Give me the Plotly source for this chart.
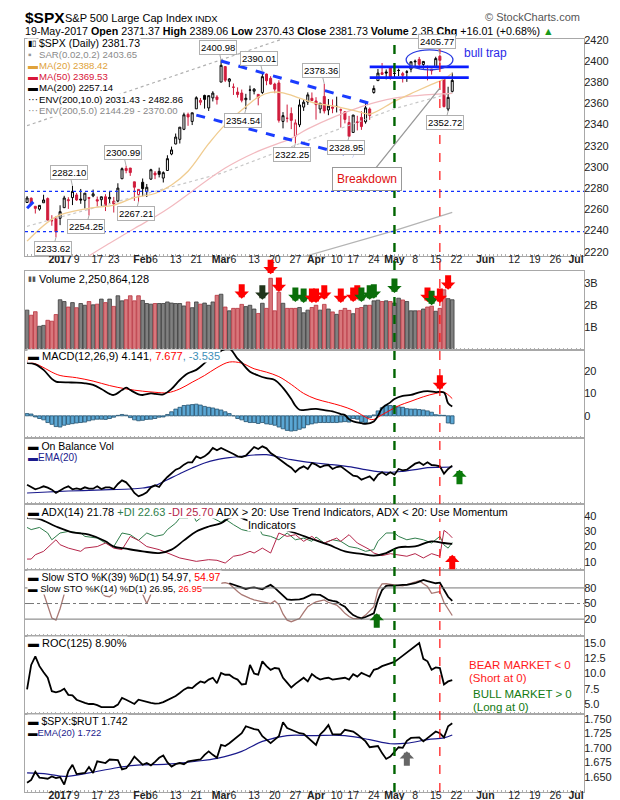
import pandas as pd
import plotly.graph_objects as go
from plotly.subplots import make_subplots

FONT = "Liberation Sans, Arial, sans-serif"

# trading calendar (NYSE holidays removed)
holidays = ["2016-12-26", "2017-01-02", "2017-01-16", "2017-02-20",
            "2017-04-14", "2017-05-29", "2017-07-04"]
days = [d for d in pd.bdate_range("2016-12-20", "2017-05-19")
        if d.strftime("%Y-%m-%d") not in holidays]

# $SPX daily candles
opens = [2266.50, 2270.54, 2262.93, 2260.25, 2266.23, 2270.23, 2249.50, 2251.61,
         2251.57, 2261.60, 2268.18, 2271.14, 2273.59, 2269.72, 2268.60, 2271.14, 2272.74, 2269.14, 2269.14, 2271.90,
         2269.96, 2267.78, 2267.88, 2288.88, 2298.63, 2299.02, 2286.01, 2274.02,
         2285.59, 2276.69, 2288.54, 2294.28, 2295.87, 2289.55, 2296.70, 2312.27, 2321.72, 2326.12, 2335.58, 2349.64,
         2343.01, 2354.91, 2361.11, 2367.50, 2355.73, 2365.23, 2366.08,
         2380.13, 2394.75, 2380.92, 2375.23, 2370.74, 2369.81, 2363.49, 2372.52, 2371.56, 2368.55, 2370.34, 2387.71,
         2383.71, 2378.24, 2379.32, 2343.00, 2345.97, 2350.42, 2329.11, 2339.79, 2356.54, 2361.31, 2364.82,
         2362.34, 2354.76, 2366.59, 2353.79, 2356.59, 2357.16, 2353.92, 2352.15, 2341.98, 2332.62, 2342.53, 2346.79,
         2342.69, 2354.74, 2370.33, 2381.51, 2388.98, 2389.70, 2393.68,
         2388.50, 2391.05, 2386.50, 2389.79, 2392.37, 2399.94, 2401.58, 2396.79, 2394.84, 2392.44, 2393.98, 2404.55,
         2382.95, 2354.69, 2371.37]
highs = [2272.56, 2271.23, 2263.18, 2263.79, 2273.82, 2271.31, 2254.51, 2253.58,
         2263.88, 2272.82, 2271.50, 2282.10, 2275.49, 2279.27, 2275.32, 2271.78, 2278.68, 2272.08, 2272.01, 2274.33,
         2276.96, 2271.78, 2284.63, 2299.55, 2300.99, 2299.02, 2286.01, 2279.09,
         2289.14, 2283.97, 2298.31, 2296.18, 2299.40, 2295.91, 2311.08, 2319.23, 2331.58, 2337.58, 2351.30, 2351.31,
         2351.16, 2366.71, 2365.13, 2368.26, 2367.34, 2371.54, 2367.79,
         2400.98, 2394.75, 2383.89, 2378.80, 2375.12, 2373.09, 2369.08, 2376.86, 2374.42, 2368.55, 2390.01, 2388.10,
         2385.71, 2379.55, 2381.93, 2351.81, 2358.92, 2356.22, 2344.90, 2363.78, 2363.36, 2370.42, 2370.35,
         2365.87, 2360.53, 2378.36, 2364.16, 2363.76, 2366.37, 2355.22, 2352.72, 2348.26, 2349.14, 2348.35, 2352.63,
         2361.37, 2356.18, 2376.98, 2392.48, 2398.16, 2392.10, 2393.68,
         2394.49, 2392.93, 2389.82, 2391.43, 2399.29, 2401.36, 2403.87, 2399.74, 2395.72, 2392.44, 2404.05, 2405.77,
         2384.87, 2375.74, 2389.06]
lows = [2266.14, 2265.15, 2256.08, 2258.84, 2266.15, 2249.11, 2244.56, 2233.62,
        2245.13, 2261.60, 2260.45, 2264.06, 2268.04, 2265.27, 2260.83, 2254.25, 2271.51, 2262.81, 2263.35, 2258.41,
        2265.01, 2257.02, 2266.68, 2288.88, 2294.08, 2291.62, 2268.04, 2267.21,
        2272.44, 2271.65, 2287.88, 2288.57, 2290.16, 2285.38, 2296.61, 2311.10, 2321.42, 2322.17, 2334.81, 2338.87,
        2339.58, 2354.91, 2358.34, 2355.09, 2352.87, 2361.87, 2358.96,
        2380.13, 2380.17, 2375.39, 2367.98, 2365.51, 2361.01, 2354.54, 2363.04, 2368.52, 2358.18, 2368.94, 2377.18,
        2377.64, 2369.66, 2341.90, 2336.45, 2342.13, 2335.74, 2322.25, 2337.63, 2352.94, 2358.58, 2362.60,
        2344.73, 2350.72, 2350.52, 2348.90, 2350.74, 2351.50, 2337.25, 2341.18, 2328.95, 2332.51, 2334.54, 2335.05,
        2340.91, 2344.51, 2369.19, 2381.15, 2386.78, 2382.68, 2382.36,
        2384.83, 2385.82, 2379.75, 2380.35, 2389.38, 2393.92, 2392.44, 2392.79, 2381.74, 2387.19, 2393.94, 2396.05,
        2356.21, 2352.72, 2370.43]
closes = [2270.76, 2265.18, 2260.96, 2263.79, 2268.88, 2249.92, 2249.26, 2238.83,
          2257.83, 2270.75, 2269.00, 2276.98, 2268.90, 2268.90, 2275.32, 2270.44, 2274.64, 2267.89, 2271.89, 2263.69,
          2271.31, 2265.20, 2280.07, 2298.37, 2296.68, 2294.69, 2280.90, 2278.87,
          2279.55, 2280.85, 2297.42, 2292.56, 2293.08, 2294.67, 2307.87, 2316.10, 2328.25, 2337.58, 2349.25, 2347.22,
          2351.16, 2365.38, 2362.82, 2363.81, 2367.34, 2369.75, 2363.64,
          2395.96, 2381.92, 2383.12, 2375.31, 2368.39, 2362.98, 2364.87, 2372.60, 2373.47, 2365.45, 2385.26, 2381.38,
          2378.25, 2373.47, 2344.02, 2348.45, 2345.96, 2343.98, 2341.59, 2358.57, 2361.13, 2368.06, 2362.72,
          2358.84, 2360.16, 2352.95, 2357.49, 2355.54, 2357.16, 2353.78, 2344.93, 2328.95, 2349.01, 2342.19, 2338.17,
          2355.84, 2348.69, 2374.15, 2388.61, 2387.45, 2388.77, 2384.20,
          2388.33, 2391.17, 2388.13, 2389.52, 2399.29, 2399.38, 2396.92, 2399.63, 2394.44, 2390.90, 2402.32, 2400.67,
          2357.03, 2365.72, 2381.73]

# overlays (trading-day index, value)
ma20_idx = [0, 7, 15, 21, 26, 31, 35, 39, 44, 48, 53, 56, 59, 62, 66, 70, 75, 80, 83, 89, 94, 98, 101, 103]
ma20_val = [2230, 2253, 2261, 2264, 2271, 2275, 2283, 2296, 2322, 2340, 2357, 2366, 2370.5, 2370, 2365, 2360,
            2357, 2352.5, 2350, 2362, 2371, 2378, 2383, 2388.42]
ma50_idx = [0, 8, 15, 20, 26, 31, 35, 48, 56, 64, 68, 81, 89, 103]
ma50_val = [2178, 2198, 2216, 2228, 2242, 2253, 2263, 2299, 2315, 2327, 2336, 2357, 2365, 2369.53]
ma200_idx = [0, 34, 68, 89, 103]
ma200_val = [2140, 2178, 2216, 2240, 2257.14]
env5_idx = [0, 7, 47, 68, 89, 103]
env5_val = [2244, 2251.6, 2294, 2325, 2355, 2370.0]
env10_idx = [0, 24, 47, 62, 103]
env10_val = [2339, 2371, 2401, 2421, 2482.86]

# volume, billions of shares
volume = [1.78, 1.55, 1.71, 1.05, 1.09, 1.32, 1.28, 1.58,
          2.25, 2.17, 1.92, 2.12, 1.89, 2.08, 2.00, 2.17, 2.02, 2.05, 2.28, 2.12, 2.28, 1.95, 2.43, 2.20, 2.25, 2.43,
          2.20, 2.43,
          2.22, 2.08, 2.05, 2.08, 2.08, 2.08, 2.15, 2.10, 2.08, 2.08, 1.97, 2.15, 1.89, 2.15, 2.05, 2.10, 2.00, 2.15,
          2.45,
          2.50, 1.92, 1.75, 1.86, 1.86, 2.04, 1.94, 2.00, 1.83, 1.63, 2.09, 1.86, 3.22, 1.75, 2.59, 2.09, 1.86, 1.86,
          1.86, 1.90, 1.66, 1.78, 1.90,
          2.00, 1.78, 2.04, 1.83, 1.70, 1.59, 1.77, 1.86, 1.77, 1.62, 1.86, 1.90, 2.00, 2.00, 2.20, 2.23, 2.17, 2.20,
          2.17,
          2.10, 2.32, 2.24, 2.17, 1.75, 1.75, 1.75, 1.83, 1.92, 1.96, 1.73, 1.86, 2.70, 2.30, 2.25]

# MACD(12,26,9)
macd_idx = [0, 2, 4, 6, 7, 8, 10, 12, 14, 16, 18, 20, 21, 23, 24, 25, 27, 28, 30, 31, 33, 35, 37, 39, 41, 43, 45,
            47, 49, 51, 52, 54, 56, 58, 60, 62, 64, 65, 66, 68, 70, 72, 74, 76, 77, 78, 79, 81, 82, 84, 85, 86, 88,
            89, 91, 93, 95, 97, 99, 101, 102, 103]
macd_val = [23.5, 23.0, 20.5, 16.5, 15.3, 15.0, 14.9, 14.8, 14.5, 13.8, 12.0, 9.8, 9.3, 11.5, 12.6, 11.5, 9.6, 9.3,
            10.0, 9.8, 9.6, 12.0, 16.0, 19.0, 20.5, 23.5, 26.5, 29.0, 30.0, 25.5, 23.7, 19.7, 18.0, 16.8, 16.0, 12.5,
            7.5, 4.5, 2.7, 2.8, 3.1, 2.5, 2.0, 0.8, 0.3, -1.5, -2.5, -3.3, -3.6, -2.5, 0.0, 3.4, 6.0, 7.5, 8.9, 9.3,
            10.5, 11.0, 10.6, 10.4, 5.6, 4.141]
signal_idx = [0, 3, 6, 8, 12, 16, 20, 24, 28, 31, 34, 37, 40, 43, 46, 49, 52, 55, 58, 61, 64, 67, 70, 73, 76, 79,
              81, 83, 84, 86, 88, 90, 93, 96, 99, 101, 103]
signal_val = [24.5, 22.5, 19.5, 18.0, 17.0, 15.5, 13.5, 12.0, 11.0, 10.5, 10.3, 12.0, 15.0, 18.0, 21.5, 24.0, 23.5,
              21.0, 19.5, 17.5, 14.0, 10.0, 7.5, 6.0, 4.5, 2.5, 0.5, -1.5, -1.6, 0.5, 2.5, 4.5, 6.5, 8.5, 10.0, 10.5,
              7.677]
macd_hist = [1.0, 0.8, -0.5, -1.2, -1.8, -3.0, -3.8, -4.8, -5.0, -4.2, -3.8, -3.5, -3.2, -3.0, -2.8, -2.2, -1.8,
             -1.5, -1.5, -1.6, -1.2, -0.6, 0.2, 0.6, 0.3, -0.8, -1.8, -2.2, -2.0, -1.6, -1.5, -1.2, -0.6, -0.5, 0.6,
             1.8, 3.0, 3.8, 4.6, 4.8, 5.0, 5.2, 4.8, 4.2, 3.8, 3.5, 3.0, 2.6, 1.8, 1.0, 0.0, -1.2, -1.8, -2.6, -3.0,
             -3.0, -3.4, -3.0, -3.6, -3.8, -4.2, -5.0, -5.8, -6.5, -6.8, -6.6, -6.0, -5.4, -4.0, -3.6, -3.2, -3.0,
             -3.0, -3.0, -3.0, -3.0, -2.8, -2.6, -2.8, -1.2, -1.5, -2.8, -3.0, -0.8, 0.4, 2.2, 3.6, 4.8, 4.6, 4.4,
             4.0, 3.8, 3.2, 3.0, 3.0, 2.8, 2.6, 2.2, 1.6, 0.5, 0.3, 0.2, -3.2, -3.535]

# On Balance Volume (relative units) and its EMA(20)
obv = [45, 39, 31, 35, 40, 36, 30, 20, 28, 35, 40, 31, 34, 31, 37, 33, 33, 40, 32, 37, 37, 32, 47, 58, 52, 38, 20,
       10, 15, 22, 37, 43, 38, 55, 68, 80, 90, 95, 105, 112, 112, 130, 124, 130, 140, 155, 148, 155, 148, 143, 137,
       130, 128, 132, 145, 158, 152, 160, 154, 140, 132, 122, 112, 104, 96, 83, 94, 100, 92, 110, 105, 97, 102, 104,
       92, 98, 100, 90, 80, 72, 70, 60, 65, 70, 58, 75, 82, 74, 82, 75, 92, 88, 90, 100, 108, 112, 104, 112, 104,
       103, 100, 78, 92, 102]
obv_ema_idx = [0, 5, 10, 15, 20, 25, 28, 31, 34, 37, 40, 43, 46, 49, 52, 55, 58, 61, 64, 67, 70, 73, 76, 79, 82,
               85, 88, 91, 94, 97, 100, 103]
obv_ema_val = [20, 23, 26, 28, 30, 32, 35, 42, 60, 78, 95, 110, 120, 126, 130, 134, 135, 128, 120, 114, 110, 106,
               102, 97, 90, 84, 82, 85, 90, 96, 97, 98]

# ADX(14), +DI, -DI
adx_idx = [0, 3, 7, 11, 15, 19, 21, 24, 28, 32, 35, 38, 41, 44, 47, 49, 51, 53, 57, 61, 65, 69, 73, 77, 81, 84, 87,
           90, 94, 98, 101, 103]
adx_val = [38.5, 37.8, 33, 29.2, 27.7, 23.4, 20, 18.6, 16.9, 15.8, 18, 24, 29.8, 33, 35.2, 38.5, 39.6, 37.4, 34.2,
           32, 28.8, 24.9, 21.2, 16.9, 15.2, 14.1, 15.8, 19.5, 20.1, 23.4, 22.3, 21.78]
pdi_idx = [0, 1, 3, 5, 6, 8, 10, 13, 14, 17, 19, 21, 23, 25, 27, 29, 31, 33, 34, 36, 37, 39, 40, 41, 43, 45, 47,
           48, 50, 52, 54, 56, 57, 59, 61, 63, 65, 67, 69, 70, 72, 74, 76, 78, 80, 82, 84, 85, 87, 89, 90, 92, 94,
           96, 98, 100, 101, 102, 103]
pdi_val = [32.4, 31, 32.4, 28.8, 24.4, 28.8, 29.8, 28.8, 26.6, 25.5, 22.3, 20, 28.8, 27.7, 24, 28.8, 26.6, 27.7, 31,
           35.2, 38.5, 38.5, 41.7, 36.3, 40.6, 38.5, 35.7, 37.8, 34.2, 31, 29.8, 33, 27.7, 26.6, 24.4, 28.8, 24.4,
           25.5, 23.4, 26.2, 22.3, 24.4, 23.4, 20, 19, 16.9, 18, 23.4, 28.8, 28.8, 26.6, 24.4, 25.5, 24.4, 22.3,
           26.6, 21, 19, 22.63]
mdi_idx = [0, 1, 2, 4, 7, 8, 10, 13, 14, 17, 19, 21, 23, 25, 27, 29, 32, 34, 37, 41, 44, 46, 48, 50, 52, 54, 55,
           57, 59, 61, 63, 65, 67, 69, 70, 72, 75, 76, 78, 80, 83, 84, 86, 88, 90, 92, 94, 96, 98, 100, 101, 102, 103]
mdi_val = [11.9, 11.9, 14.7, 16.9, 24.4, 21.2, 19, 16.9, 19, 20, 22.3, 19, 18, 26.6, 24, 20, 18, 15.8, 12.6, 10.4,
           11.5, 11.1, 9.3, 13.7, 14.7, 16.9, 15.8, 19, 15.8, 28.8, 26.6, 27.7, 23.4, 26.6, 24.4, 22.3, 25.5, 23.4,
           27.7, 22.3, 18, 15.8, 14.1, 15.4, 14.7, 13.7, 15.4, 12.6, 15.4, 13.7, 30.5, 28.5, 25.70]

# Slow stochastics (parts hidden behind the legend are left out)
sto39 = [None] * 49 + [89, 86, 82.6, 80, 78, 80, 81, 79, 77.4, 82, 85.8, 80, 72.9, 65, 58, 57, 56.8, 58, 60, 64,
                       67.7, 67, 66.5, 62, 56.8, 55, 53.5, 48, 43.9, 35, 27.7, 24, 21.3, 24, 27.7, 31, 57, 76,
                       83.9, 85, 84.5, 85.8, 85.8, 86, 87, 89, 92, 95.5, 93, 91, 89, 90, 76, 63, 54.97]
sto14 = ([None] * 4 + [70, 45, 22, 18, 40, 68] + [None] * 8 + [70, 64, 63, 70] + [None] * 6 + [68, 50, 68]
         + [None] * 16
         + [89, 90, 88, 80, 73, 67, 63, 60, 57, 55, 53.5, 51, 50, 55, 48, 30, 18, 15, 18, 21, 33, 44, 49, 53, 55,
            57, 52, 49, 47, 40, 31, 25, 21, 21, 22, 27.7, 36, 44, 76, 87.7, 88, 86.5, 85.8, 84.5, 84, 86.5, 89, 92,
            94, 88, 82.6, 69.7, 71, 73, 52, 40, 26.95])

# ROC(125), %
roc = [7.4, 11.4, 12.8, 11.2, 10.2, 9.3, 7.1, 6.9, 7.1, 7.5, 6.5, 6.4, 5.7, 5.4, 5.2, 5.0, 5.0, 4.8, 4.5, 4.5, 4.5,
       4.5, 4.9, 6.0, 5.7, 5.4, 5.0, 5.7, 5.5, 5.3, 5.2, 5.05, 5.1, 5.3, 5.6, 6.0, 6.3, 6.8, 7.35, 7.7, 7.6, 8.2,
       8.7, 8.5, 9.0, 9.3, 8.4, 10.1, 9.8, 9.8, 9.3, 9.0, 8.2, 8.3, 11.4, 10.0, 9.8, 12.0, 11.2, 10.6, 10.9, 10.8,
       9.3, 8.5, 7.7, 8.3, 8.8, 9.3, 8.7, 9.9, 9.4, 9.0, 9.2, 9.3, 9.0, 9.1, 9.3, 9.3, 9.0, 9.9, 9.5, 10.1, 9.8,
       9.5, 10.6, 10.8, 11.2, 11.4, 11.6, 11.9, 12.4, 12.9, 13.4, 13.9, 14.5, 15.0, 12.4, 12.0, 10.6, 11.0, 10.9,
       8.2, 8.7, 8.9]

# $SPX:$RUT ratio and EMA(20)
ratio = [1.640, 1.645, 1.659, 1.649, 1.648, 1.647, 1.651, 1.648, 1.650, 1.637, 1.660, 1.671, 1.655, 1.656, 1.657,
         1.667, 1.657, 1.677, 1.676, 1.674, 1.680, 1.679, 1.679, 1.663, 1.665, 1.674, 1.685, 1.678, 1.671, 1.674,
         1.670, 1.676, 1.683, 1.687, 1.675, 1.668, 1.672, 1.674, 1.672, 1.677, 1.678, 1.680, 1.680, 1.688, 1.694,
         1.688, 1.683, 1.705, 1.703, 1.708, 1.714, 1.719, 1.725, 1.737, 1.734, 1.732, 1.731, 1.720, 1.714, 1.708,
         1.714, 1.720, 1.744, 1.734, 1.731, 1.728, 1.725, 1.724, 1.718, 1.711, 1.705, 1.723, 1.730, 1.739, 1.723,
         1.723, 1.723, 1.731, 1.729, 1.728, 1.723, 1.717, 1.711, 1.701, 1.702, 1.703, 1.691, 1.681, 1.685, 1.693,
         1.701, 1.700, 1.712, 1.717, 1.718, 1.718, 1.711, 1.717, 1.723, 1.728, 1.725, 1.718, 1.737, 1.742]
ratio_ema_idx = [0, 5, 9, 15, 21, 26, 34, 41, 46, 52, 57, 63, 69, 77, 83, 88, 92, 97, 101, 103]
ratio_ema_val = [1.657, 1.655, 1.651, 1.657, 1.665, 1.670, 1.672, 1.677, 1.682, 1.694, 1.711, 1.721, 1.721, 1.721,
                 1.714, 1.707, 1.708, 1.714, 1.717, 1.722]

# annotations
pivot_text = ["2400.98", "2390.01", "2378.36", "2354.54", "2322.25", "2328.95", "2405.77", "2352.72",
              "2233.62", "2282.10", "2254.25", "2300.99", "2267.21"]
pivot_idx = [47, 57, 72, 53, 65, 78, 100, 102, 7, 11, 15, 24, 27]
pivot_above = [1, 1, 1, 0, 0, 0, 1, 0, 0, 1, 0, 1, 0]

vol_arrow_idx = [52, 57, 59, 61, 65, 67, 69, 70, 72, 76, 79, 80, 81, 83, 84, 89, 97, 98, 100, 102]
vol_arrow_tip = [2.3, 2.25, 3.4, 2.6, 2.15, 2.1, 2.1, 2.1, 2.25, 2.1, 2.15, 2.25, 2.15, 2.25, 2.3, 2.55, 2.15,
                 2.0, 2.1, 2.7]
vol_arrow_col = ["r", "k", "r", "r", "g", "g", "r", "r", "r", "r", "r", "r", "g", "g", "g", "g", "r", "g", "r", "r"]

tick_dates = ["2017-01-03", "2017-01-09", "2017-01-17", "2017-01-23", "2017-02-01", "2017-02-06", "2017-02-13",
              "2017-02-21", "2017-03-01", "2017-03-06", "2017-03-13", "2017-03-20", "2017-03-27", "2017-04-03",
              "2017-04-10", "2017-04-17", "2017-04-24", "2017-05-01", "2017-05-08", "2017-05-15", "2017-05-22",
              "2017-06-01", "2017-06-12", "2017-06-19", "2017-06-26", "2017-07-03"]
tick_text = ["<b>2017</b>", "9", "17", "23", "<b>Feb</b>", "6", "13", "21", "<b>Mar</b>", "6", "13", "20", "27",
             "<b>Apr</b>", "10", "17", "24", "<b>May</b>", "8", "15", "22", "<b>Jun</b>", "12", "19", "26", "<b>Jul</b>"]

RED = "#d01c3c"
COL = {"r": "#ff0000", "g": "#0a6e0a", "k": "#20331a"}


def at(idx):
    return [days[i] for i in idx]


# ---- figure ----
fig = make_subplots(rows=8, cols=1, shared_xaxes=True, vertical_spacing=0)

up = [i for i in range(len(days)) if i == 0 or closes[i] >= closes[i - 1]]
dn = [i for i in range(len(days)) if i > 0 and closes[i] < closes[i - 1]]
for sel, c in ((up, "black"), (dn, RED)):
    fig.add_trace(go.Candlestick(
        x=at(sel), open=[opens[i] for i in sel], high=[highs[i] for i in sel],
        low=[lows[i] for i in sel], close=[closes[i] for i in sel],
        increasing=dict(line=dict(color=c, width=1), fillcolor="white"),
        decreasing=dict(line=dict(color=c, width=1), fillcolor=c),
        whiskerwidth=0, hoverinfo="skip"), row=1, col=1)

fig.add_trace(go.Scatter(x=at(env10_idx), y=env10_val, mode="lines",
                         line=dict(color="#b0b0b0", width=1.2, dash="dot")), row=1, col=1)
fig.add_trace(go.Scatter(x=at(env5_idx), y=env5_val, mode="lines",
                         line=dict(color="#c8c8c8", width=1.2, dash="dot")), row=1, col=1)
fig.add_trace(go.Scatter(x=at(ma200_idx), y=ma200_val, mode="lines",
                         line=dict(color="#b4b4b4", width=1.2)), row=1, col=1)
fig.add_trace(go.Scatter(x=at(ma50_idx), y=ma50_val, mode="lines", line_shape="spline",
                         line=dict(color="#f2b9bf", width=1.2)), row=1, col=1)
fig.add_trace(go.Scatter(x=at(ma20_idx), y=ma20_val, mode="lines", line_shape="spline",
                         line=dict(color="#f0cc90", width=1.3)), row=1, col=1)

vcol = ["#808080" if i in up else "#d8777c" for i in range(len(days))]
vedge = ["#3c3c3c" if i in up else "#b8343f" for i in range(len(days))]
fig.add_trace(go.Bar(x=days, y=volume, marker=dict(color=vcol, line=dict(color=vedge, width=0.8))), row=2, col=1)

fig.add_trace(go.Bar(x=days, y=macd_hist, marker=dict(color="#5ba7d4", line=dict(color="#23506e", width=0.8))),
              row=3, col=1)
fig.add_trace(go.Scatter(x=at(signal_idx), y=signal_val, mode="lines", line_shape="spline",
                         line=dict(color="#ff0000", width=1)), row=3, col=1)
fig.add_trace(go.Scatter(x=at(macd_idx), y=macd_val, mode="lines", line_shape="spline",
                         line=dict(color="black", width=1.8)), row=3, col=1)

fig.add_trace(go.Scatter(x=at(obv_ema_idx), y=obv_ema_val, mode="lines", line_shape="spline",
                         line=dict(color="#1a1a8c", width=1.2)), row=4, col=1)
fig.add_trace(go.Scatter(x=days, y=obv, mode="lines", line=dict(color="black", width=1.8)), row=4, col=1)

fig.add_trace(go.Scatter(x=at(pdi_idx), y=pdi_val, mode="lines", line=dict(color="#2e7d4a", width=1)), row=5, col=1)
fig.add_trace(go.Scatter(x=at(mdi_idx), y=mdi_val, mode="lines", line=dict(color="#b5264a", width=1)), row=5, col=1)
fig.add_trace(go.Scatter(x=at(adx_idx), y=adx_val, mode="lines", line_shape="spline",
                         line=dict(color="black", width=1.8)), row=5, col=1)

fig.add_trace(go.Scatter(x=days, y=sto14, mode="lines", line=dict(color="#a97873", width=1.3)), row=6, col=1)
fig.add_trace(go.Scatter(x=days, y=sto39, mode="lines", line=dict(color="black", width=1.8)), row=6, col=1)

fig.add_trace(go.Scatter(x=days, y=roc, mode="lines", line=dict(color="black", width=1.8)), row=7, col=1)

fig.add_trace(go.Scatter(x=at(ratio_ema_idx), y=ratio_ema_val, mode="lines", line_shape="spline",
                         line=dict(color="#1a1a8c", width=1.2)), row=8, col=1)
fig.add_trace(go.Scatter(x=days, y=ratio, mode="lines", line=dict(color="black", width=1.8)), row=8, col=1)

# ---- layout ----
T, B, L, R = 31, 784, 17, 576
H, W = B - T, R - L


def py(y):
    return (B - y) / H


def px(x):
    return (x - L) / W


panels = [(31, 248), (263, 341.5), (341.5, 430), (430, 496), (496, 562), (562, 628), (628, 706), (706, 784)]
for n, (top, bot) in enumerate(panels, start=1):
    fig.layout["yaxis" if n == 1 else f"yaxis{n}"].domain = [py(bot), py(top)]

breaks = [dict(bounds=["sat", "mon"]), dict(values=holidays)]
fig.update_xaxes(rangebreaks=breaks, range=["2016-12-19 12:00", "2017-07-05 22:00"], automargin=False,
                 showline=True, mirror=True, linecolor="#a8a8a8", showgrid=False, zeroline=False,
                 tickvals=tick_dates, ticktext=tick_text, ticks="", ticklen=0, tickangle=0,
                 showticklabels=False, ticklabelstandoff=-7,
                 minor=dict(ticks="inside", ticklen=2, tickcolor="#b0b0b0", dtick=86400000, showgrid=False),
                 tickfont=dict(family=FONT, size=10.5, color="#222"), rangeslider_visible=False)
fig.update_xaxes(showticklabels=True, row=1, col=1)
fig.update_xaxes(showticklabels=True, row=8, col=1)
fig.update_yaxes(side="right", showline=True, mirror=True, linecolor="#a8a8a8", showgrid=False, zeroline=False,
                 automargin=False, ticks="", ticklabelstandoff=-3,
                 tickfont=dict(family=FONT, size=11, color="#222"))
fig.update_yaxes(range=[2216, 2420.8], tickvals=list(range(2220, 2421, 20)), row=1, col=1)
fig.update_yaxes(range=[0, 3.55], tickvals=[1, 2, 3], ticktext=["1B", "2B", "3B"], row=2, col=1)
fig.update_yaxes(range=[-9.9, 29.6], tickvals=[0, 10, 20], row=3, col=1)
fig.update_yaxes(range=[-13, 185], showticklabels=False, row=4, col=1)
fig.update_yaxes(range=[4.8, 47.6], tickvals=[10, 20, 30, 40], row=5, col=1)
fig.update_yaxes(range=[-12.5, 114.5], tickvals=[20, 50, 80], row=6, col=1)
fig.update_yaxes(range=[3.36, 16.15], tickvals=[5, 7.5, 10, 12.5, 15],
                 ticktext=["5.0", "7.5", "10.0", "12.5", "15.0"], row=7, col=1)
fig.update_yaxes(range=[1.6243, 1.758], tickvals=[1.65, 1.675, 1.7, 1.725, 1.75],
                 ticktext=["1.650", "1.675", "1.700", "1.725", "1.750"], row=8, col=1)

fig.update_layout(width=620, height=800, margin=dict(l=L, r=620 - R, t=T, b=800 - B, autoexpand=False),
                  paper_bgcolor="white", plot_bgcolor="white", showlegend=False, bargap=0.12,
                  font=dict(family=FONT))

shapes = []
# support lines, channel and bull-trap markup on the price panel
for lvl in (2277, 2239):
    shapes.append(dict(type="line", xref="x", yref="y", x0="2016-12-19 12:00", x1="2017-07-05 22:00",
                       y0=lvl, y1=lvl, line=dict(color="#1030ff", width=1.3, dash="dot")))
shapes.append(dict(type="line", xref="x", yref="y", x0=days[0], x1=days[2], y0=2261, y1=2269,
                   line=dict(color="#1a3cff", width=3, dash="dash")))
shapes.append(dict(type="line", xref="x", yref="y", x0=days[47], x1=days[83], y0=2400, y1=2360,
                   line=dict(color="#1a3cff", width=3, dash="dash")))
shapes.append(dict(type="line", xref="x", yref="y", x0=days[41], x1=days[79], y0=2349, y1=2310,
                   line=dict(color="#1a3cff", width=3, dash="dash")))
for lvl in (2394.5, 2384.3):
    shapes.append(dict(type="line", xref="x", yref="y", x0=days[83], x1="2017-05-25", y0=lvl, y1=lvl,
                       line=dict(color="#0a1cff", width=2.6)))
shapes.append(dict(type="circle", xref="x", yref="y", x0="2017-05-03 20:00", x1="2017-05-19 04:00",
                   y0=2391.7, y1=2410.6, line=dict(color="#2a3ce0", width=1.3)))
# stochastic reference levels
for lvl, d in ((80, "solid"), (20, "solid"), (50, "dashdot")):
    shapes.append(dict(type="line", xref="x6", yref="y6", x0="2016-12-19 12:00", x1="2017-07-05 22:00",
                       y0=lvl, y1=lvl, line=dict(color="#777", width=1, dash=d)))
# signal verticals across all panels
shapes.append(dict(type="line", xref="x", yref="paper", x0=days[89], x1=days[89], y0=0, y1=1.004,
                   line=dict(color="#006400", width=2.4, dash="dash")))
shapes.append(dict(type="line", xref="x", yref="paper", x0=days[100], x1=days[100], y0=0, y1=1,
                   line=dict(color="#ff1010", width=1.2, dash="dash")))
fig.update_layout(shapes=shapes)


def note(x, y, text, size=11, color="black", bg="rgba(0,0,0,0)", xanchor="left"):
    fig.add_annotation(x=px(x), y=py(y), xref="paper", yref="paper", text=text, showarrow=False,
                       xanchor=xanchor, yanchor="middle", bgcolor=bg, borderpad=0,
                       font=dict(family=FONT, size=size, color=color))


def block_arrow(x, y, n, color, up=False, length=16):
    xr = "x" if n == 1 else f"x{n}"
    yr = "y" if n == 1 else f"y{n}"
    fig.add_annotation(x=x, y=y, xref=xr, yref=yr, text="", showarrow=True, ax=0,
                       ay=length if up else -length, arrowhead=1, arrowsize=0.4, arrowwidth=6,
                       arrowcolor=color)


# header
note(16, 9, "<b>$SPX</b>", size=15.5)
note(56, 10, "S&amp;P 500 Large Cap Index", size=11)
note(186, 10, "INDX", size=9.5)
note(573, 9, "© StockCharts.com", size=11, color="#555", xanchor="right")
note(16, 22.5, "19-May-2017 <b>Open</b> 2371.37 <b>High</b> 2389.06 <b>Low</b> 2370.43 <b>Close</b> 2381.73 "
               "<b>Volume</b> 2.3B <b>Chg</b> +16.01 (+0.68%) <span style='color:#1a9a1a'>▲</span>", size=10.7)

# price legend
leg = [("▮▯", "$SPX (Daily) 2381.73", "black", "black"),
       ("▪", "SAR(0.02,0.2) 2403.65", "#999", "#8a8a8a"),
       ("▬", "MA(20) 2388.42", "#e0a23a", "#e0a23a"),
       ("▬", "MA(50) 2369.53", "#d8163a", "#d8163a"),
       ("▬", "MA(200) 2257.14", "black", "black"),
       ("···", "ENV(200,10.0) 2031.43 - 2482.86", "black", "black"),
       ("···", "ENV(200,5.0) 2144.29 - 2370.00", "#888", "#888")]
for k, (sym, txt, sc, tc) in enumerate(leg):
    y = 35 + k * 11.2
    note(19, y, sym, size=8 if k == 0 else 10, color=sc, bg="white")
    note(30, y, txt, size=9.6 if k else 10.5, color=tc, bg="white")

# pivot labels
for t, i, a in zip(pivot_text, pivot_idx, pivot_above):
    fig.add_annotation(x=days[i], y=float(t), xref="x", yref="y", text=t, showarrow=True, arrowhead=0,
                       arrowwidth=1, arrowcolor="#aaa", ax=-3, ay=-13 if a else 11.5, bgcolor="white",
                       bordercolor="#b0b0b0", borderwidth=1, borderpad=1,
                       font=dict(family=FONT, size=9.5, color="black"))

fig.add_annotation(x=days[100], y=2374.4, xref="x", yref="y", text="Breakdown", showarrow=True, arrowhead=0,
                   arrowwidth=1.3, arrowcolor="#999", ax=-73, ay=91, bgcolor="white", bordercolor="#999",
                   borderwidth=1, borderpad=4, font=dict(family=FONT, size=12, color="#e01010"))
note(455, 45, "bull trap", size=12, color="#2a2ae8")

# lower panel legends
note(19, 270.5, "▮▮", size=7, color="#555", bg="white")
note(30, 270.5, "Volume 2,250,864,128", bg="white")
note(19, 348.5, "▬ MACD(12,26,9) 4.141<span style='color:#ff0000'>, 7.677</span>"
                "<span style='color:#3e8fb8'>, -3.535</span>", bg="white")
note(19, 437.5, "▬ On Balance Vol", size=10.5, bg="white")
note(19, 449.5, "▬<span style='color:#1a1a8c'>EMA(20)</span>", size=10, color="#1a1a8c", bg="white")
note(19, 504, "▬ ADX(14) 21.78 <span style='color:#2e7d4a'>+DI 22.63</span> "
              "<span style='color:#b5264a'>-DI 25.70</span> ADX &gt; 20: Use Trend Indicators, "
              "ADX &lt; 20: Use Momentum", bg="white")
note(239, 516.5, "Indicators", bg="white")
note(19, 569.3, "▬ Slow STO %K(39) %D(1) 54.97, <span style='color:#ff0000'>54.97</span>", size=10.5, bg="white")
note(19, 580.5, "▬ Slow STO %K(14) %D(1) 26.95, <span style='color:#ff0000'>26.95</span>", size=9.5, bg="white")
note(19, 635, "▬ ROC(125) 8.90%", bg="white")
note(460, 656.7, "BEAR MARKET &lt; 0", size=11.5, color="#ff1a1a")
note(460, 670, "(Short at 0)", size=11.5, color="#ff1a1a")
note(464, 686, "BULL MARKET &gt; 0", size=11.5, color="#127a12")
note(464, 699, "(Long at 0)", size=11.5, color="#127a12")
note(19, 713.3, "▬ $SPX:$RUT 1.742", size=10.5, bg="white")
note(19, 724.5, "▬<span style='color:#1a1a8c'>EMA(20) 1.722</span>", size=9.5, bg="white")

# arrows
for i, v, c in zip(vol_arrow_idx, vol_arrow_tip, vol_arrow_col):
    block_arrow(days[i], v, 2, COL[c])
block_arrow(days[100], 11.6, 3, "#ff0000")
block_arrow("2017-05-22 18:00", 90, 4, "#0a7a0a", up=True)
block_arrow(days[103], 14.7, 5, "#ff0000", up=True)
block_arrow("2017-04-24 17:00", 31.5, 6, "#0a6e0a", up=True)
block_arrow(days[92], 1.694, 8, "#666666", up=True)

fig.write_html("out.html")
